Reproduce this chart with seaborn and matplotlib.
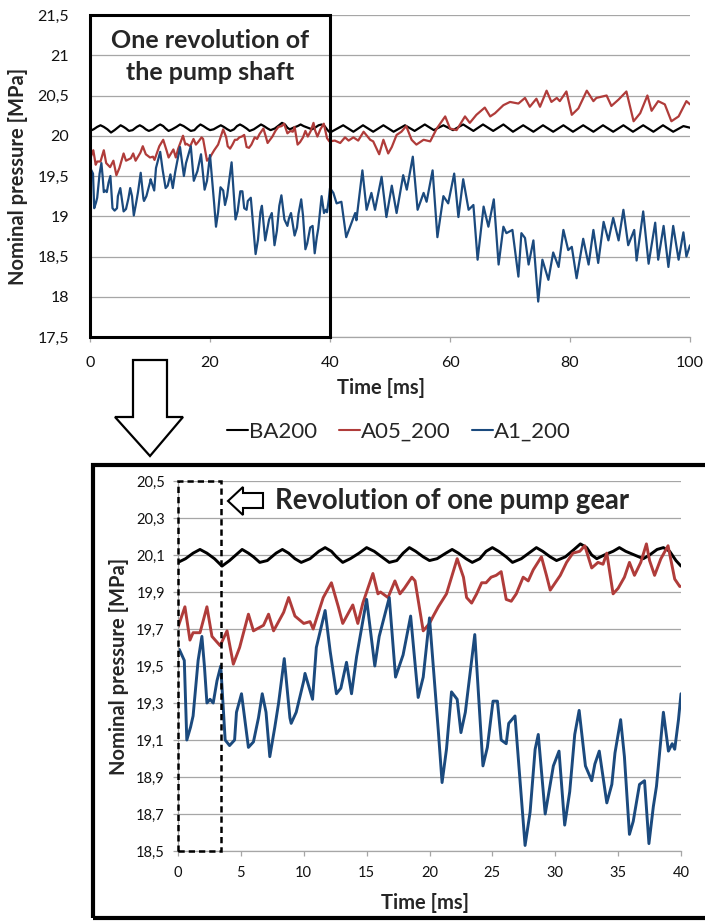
import numpy as np
import pandas as pd
import matplotlib
matplotlib.use("Agg")
import matplotlib.pyplot as plt
import seaborn as sns
from matplotlib.patches import Rectangle, Polygon
from matplotlib.ticker import FuncFormatter

# ---------------- data ----------------
series_names = ["BA200", "A05_200", "A1_200"]
series_colors = ["#000000", "#b03c3a", "#1b4a7e"]

ba_t = [0, 0.6, 1.2, 1.75, 2.3, 2.9, 3.5, 4.1, 4.6, 5.1,
        5.6, 6.0, 6.5, 7.1, 7.8, 8.3, 8.8, 9.3, 9.8, 10.5,
        11.2, 11.7, 12.2, 12.6, 13.1, 13.7, 14.4, 15.0, 15.6, 16.2,
        16.8, 17.4, 17.9, 18.4, 18.9, 19.5, 20.0, 20.6, 21.3, 21.8,
        22.3, 22.9, 23.4, 24.0, 24.5, 25.0, 25.5, 26.1, 26.6, 27.3,
        27.9, 28.5, 29.0, 29.6, 30.1, 30.8, 31.5, 32.0, 32.5, 32.9,
        33.3, 33.9, 34.6, 35.1, 35.6, 36.3, 37.0, 37.5, 38.1, 38.6,
        39.1, 39.6, 40.0,
        42.2, 43.9, 45.5, 47.2, 48.9, 50.6, 52.5, 54.1, 55.8, 57.3,
        58.9, 60.5, 62.2, 63.9, 65.5, 67.2, 68.9, 70.5, 72.2, 73.9,
        75.5, 77.2, 78.9, 80.5, 82.2, 83.9, 85.5, 87.2, 88.9, 90.5,
        92.2, 93.9, 95.5, 97.2, 98.9, 100.0]
ba_v = [20.06, 20.08, 20.11, 20.13, 20.11, 20.08, 20.04, 20.07, 20.10, 20.13,
        20.11, 20.09, 20.06, 20.07, 20.11, 20.13, 20.11, 20.08, 20.06, 20.08,
        20.12, 20.14, 20.12, 20.09, 20.06, 20.08, 20.11, 20.14, 20.12, 20.09,
        20.06, 20.07, 20.11, 20.14, 20.12, 20.09, 20.07, 20.08, 20.11, 20.13,
        20.11, 20.08, 20.06, 20.08, 20.12, 20.14, 20.12, 20.09, 20.06, 20.08,
        20.11, 20.14, 20.12, 20.09, 20.07, 20.09, 20.13, 20.16, 20.14, 20.10,
        20.08, 20.10, 20.12, 20.14, 20.12, 20.10, 20.08, 20.10, 20.13, 20.14,
        20.12, 20.07, 20.04,
        20.13, 20.05, 20.13, 20.05, 20.13, 20.05, 20.13, 20.06, 20.14, 20.07,
        20.13, 20.07, 20.14, 20.06, 20.14, 20.06, 20.14, 20.05, 20.13, 20.05,
        20.13, 20.05, 20.13, 20.05, 20.13, 20.05, 20.13, 20.05, 20.13, 20.05,
        20.13, 20.05, 20.13, 20.05, 20.12, 20.10]

a05_t = [0.0, 0.55, 0.95, 1.2, 1.75, 2.3, 2.7, 3.35, 3.9, 4.4,
         4.9, 5.6, 6.0, 6.8, 7.2, 7.6, 8.4, 8.8, 9.3, 10.0,
         10.5, 10.75, 11.55, 12.2, 12.75, 13.1, 13.9, 14.3, 14.7, 15.5,
         15.9, 16.1, 16.7, 17.25, 17.65, 18.0, 18.6, 18.85, 19.5, 20.0,
         20.3, 20.7, 21.35, 21.75, 22.2, 22.7, 22.95, 23.35, 23.75, 24.15,
         24.5, 24.9, 25.3, 25.7, 26.1, 26.5, 26.9, 27.45, 27.85, 28.25,
         28.9, 29.3, 29.6, 30.0, 30.4, 30.9, 31.4, 31.95, 32.35, 32.9,
         33.4, 33.8, 34.1, 34.6, 35.0, 35.5, 35.9, 36.3, 36.8, 37.25,
         37.5, 37.9, 38.4, 38.97, 39.5, 39.9,
         40.8, 41.7, 42.5, 43.1, 43.9, 44.7, 45.6, 46.7, 47.2,
         48.2, 48.9, 49.7, 50.3, 51.1, 51.9, 52.7, 53.6, 54.4, 55.6,
         56.7, 57.8, 59.2, 60.0, 61.1, 62.5, 63.3, 64.4, 65.8, 66.7,
         67.5, 68.9, 70.0, 71.4, 72.5, 73.3, 74.4, 75.0, 76.1, 76.9,
         77.8, 78.3, 79.4, 80.3, 81.4, 82.8, 83.9, 84.4, 86.1, 86.9,
         88.1, 89.4, 90.6, 91.7, 92.9, 93.6, 94.7, 95.8, 96.9, 98.1,
         99.4, 100.0]
a05_v = [19.71, 19.82, 19.64, 19.68, 19.68, 19.82, 19.66, 19.61, 19.69, 19.51,
         19.60, 19.78, 19.69, 19.72, 19.78, 19.69, 19.79, 19.87, 19.77, 19.73,
         19.74, 19.70, 19.87, 19.95, 19.82, 19.73, 19.83, 19.73, 19.84, 20.00,
         19.89, 19.90, 19.87, 19.96, 19.89, 19.92, 19.98, 19.96, 19.69, 19.73,
         19.77, 19.82, 19.89, 19.98, 20.08, 19.98, 19.87, 19.84, 19.89, 19.95,
         19.95, 19.98, 19.99, 20.01, 19.86, 19.85, 19.89, 19.98, 19.96, 20.02,
         20.09, 19.99, 19.91, 19.95, 19.99, 20.06, 20.11, 20.12, 20.15, 20.03,
         20.06, 20.05, 20.11, 19.89, 19.92, 19.98, 20.06, 19.99, 20.06, 20.16,
         20.07, 19.99, 20.08, 20.15, 19.97, 19.93,
         19.94, 19.91, 19.98, 19.94, 19.98, 19.94, 20.05, 19.95, 19.93,
         19.77, 19.95, 19.78, 19.86, 20.01, 20.05, 20.12, 19.95, 19.89, 19.95,
         19.93, 20.09, 20.24, 20.09, 20.07, 20.24, 20.16, 20.26, 20.35, 20.24,
         20.28, 20.38, 20.42, 20.40, 20.47, 20.36, 20.46, 20.36, 20.56, 20.42,
         20.47, 20.43, 20.55, 20.26, 20.34, 20.56, 20.43, 20.47, 20.50, 20.37,
         20.45, 20.55, 20.18, 20.28, 20.50, 20.31, 20.43, 20.39, 20.18, 20.24,
         20.43, 20.39]

a1_t = [0.1, 0.5, 0.7, 1.0, 1.2, 1.6, 1.9, 2.1, 2.3, 2.55,
        2.8, 3.1, 3.4, 3.75, 4.1, 4.5, 4.65, 5.05, 5.6, 6.0,
        6.4, 6.7, 7.0, 7.3, 7.7, 8.0, 8.45, 8.9, 9.0, 9.4,
        10.0, 10.1, 10.7, 11.0, 11.7, 12.1, 12.6, 12.95, 13.4, 13.8,
        14.2, 15.0, 15.65, 16.0, 16.8, 17.3, 17.9, 18.5, 19.1, 19.5,
        20.0, 20.7, 21.0, 21.35, 21.75, 22.2, 22.5, 22.85, 23.6, 24.25,
        24.6, 25.05, 25.4, 25.7, 26.1, 26.3, 26.8, 27.6, 28.0, 28.4,
        28.65, 29.2, 29.4, 29.85, 30.3, 30.75, 31.15, 31.55, 31.9, 32.4,
        32.9, 33.15, 33.5, 34.1, 34.5, 34.75, 35.2, 35.5, 35.9, 36.2,
        36.7, 37.1, 37.45, 37.8, 38.05, 38.6, 39.0, 39.3, 39.5, 39.8,
        40.0,
        40.56, 41.1, 41.9, 42.7, 43.3, 44.2, 44.4, 45.4, 46.1, 46.9,
        47.5, 48.6, 49.4, 50.3, 51.1, 52.2, 52.8, 53.8, 54.6, 55.6,
        56.1, 57.1, 57.9, 58.9, 59.7, 60.7, 61.4, 62.2, 63.1, 63.9,
        64.6, 65.6, 66.4, 67.3, 68.1, 68.9, 69.4, 70.4, 71.4, 71.9,
        72.5, 73.1, 73.9, 74.7, 75.4, 76.4, 77.2, 78.1, 78.9, 79.7,
        80.3, 81.1, 82.2, 83.1, 83.9, 84.7, 85.6, 86.4, 87.2, 88.1,
        88.9, 89.7, 90.7, 91.1, 92.2, 93.1, 94.2, 94.7, 95.6, 96.4,
        97.2, 98.1, 98.9, 99.4, 100.0]
a1_v = [19.59, 19.53, 19.10, 19.17, 19.23, 19.53, 19.66, 19.50, 19.30, 19.32,
        19.30, 19.42, 19.50, 19.10, 19.07, 19.10, 19.25, 19.35, 19.06, 19.09,
        19.22, 19.35, 19.25, 19.01, 19.17, 19.30, 19.54, 19.22, 19.19, 19.25,
        19.42, 19.46, 19.32, 19.60, 19.80, 19.58, 19.35, 19.38, 19.52, 19.35,
        19.55, 19.86, 19.50, 19.66, 19.87, 19.44, 19.56, 19.77, 19.33, 19.44,
        19.76, 19.15, 18.87, 19.05, 19.36, 19.32, 19.14, 19.25, 19.67, 18.96,
        19.06, 19.31, 19.31, 19.10, 19.08, 19.19, 19.23, 18.53, 18.71, 19.05,
        19.13, 18.70, 18.78, 18.96, 19.04, 18.64, 18.82, 19.13, 19.26, 18.96,
        18.88, 18.97, 19.04, 18.76, 18.86, 19.03, 19.21, 19.01, 18.59, 18.66,
        18.86, 18.88, 18.54, 18.74, 18.85, 19.25, 19.04, 19.08, 19.05, 19.21,
        19.35,
        19.29, 19.16, 19.18, 18.74, 18.86, 19.04, 18.95, 19.57, 19.08, 19.29,
        19.08, 19.49, 18.99, 19.38, 19.04, 19.51, 19.33, 19.74, 19.08, 19.29,
        19.18, 19.57, 18.74, 19.25, 19.16, 19.53, 18.99, 19.46, 19.08, 19.14,
        18.46, 19.12, 18.87, 19.21, 18.40, 18.87, 18.79, 18.83, 18.25, 18.79,
        18.73, 18.40, 18.70, 17.94, 18.46, 18.21, 18.55, 18.37, 18.83, 18.58,
        18.62, 18.23, 18.72, 18.40, 18.83, 18.42, 18.93, 18.70, 18.98, 18.70,
        19.08, 18.64, 18.83, 18.45, 19.06, 18.41, 18.92, 18.46, 18.88, 18.37,
        18.88, 18.46, 18.80, 18.50, 18.64]

top_xticks = [0, 20, 40, 60, 80, 100]
top_yticks = [17.5, 18, 18.5, 19, 19.5, 20, 20.5, 21, 21.5]
bot_xticks = [0, 5, 10, 15, 20, 25, 30, 35, 40]
bot_yticks = [18.5, 18.7, 18.9, 19.1, 19.3, 19.5, 19.7, 19.9, 20.1, 20.3, 20.5]

df = pd.concat([
    pd.DataFrame({"t": ba_t, "p": ba_v, "series": "BA200"}),
    pd.DataFrame({"t": a05_t, "p": a05_v, "series": "A05_200"}),
    pd.DataFrame({"t": a1_t, "p": a1_v, "series": "A1_200"}),
], ignore_index=True)

# ---------------- figure ----------------
sns.set_theme(style="white")
plt.rcParams["font.family"] = ["Lato", "DejaVu Sans"]

W, H = 705, 921
fig = plt.figure(figsize=(W / 100, H / 100), dpi=100)


def fx(px):
    return px / W


def fy(py):
    return 1 - py / H


ax1 = fig.add_axes([fx(90), fy(337), 600 / W, 322 / H])
ax2 = fig.add_axes([fx(178), fy(851), 503 / W, 370 / H])

palette = dict(zip(series_names, series_colors))
sns.lineplot(data=df, x="t", y="p", hue="series", hue_order=series_names,
             palette=palette, estimator=None, sort=False, lw=1.6,
             ax=ax1, legend=False)
sns.lineplot(data=df, x="t", y="p", hue="series", hue_order=series_names,
             palette=palette, estimator=None, sort=False, lw=2.1,
             ax=ax2, legend=False)
for ax in (ax1, ax2):
    for ln in ax.get_lines():
        ln.set_solid_joinstyle("round")
        ln.set_solid_capstyle("round")

grid_c = "#a6a6a6"
for ax in (ax1, ax2):
    ax.set_facecolor("none")
    ax.grid(axis="y", color=grid_c, lw=0.9)
    ax.grid(axis="x", visible=False)
    ax.set_axisbelow(True)
    for s in ["top", "right"]:
        ax.spines[s].set_visible(False)
    for s in ["left", "bottom"]:
        ax.spines[s].set_color(grid_c)
        ax.spines[s].set_linewidth(0.9)
    ax.tick_params(axis="both", which="major", direction="out", length=3.5,
                   width=0.9, color=grid_c, labelcolor="#111111",
                   bottom=True, left=True)

# top axes
ax1.set_xlim(0, 100)
ax1.set_ylim(17.5, 21.5)
ax1.set_xticks(top_xticks)
ax1.set_yticks(top_yticks)
ax1.yaxis.set_major_formatter(FuncFormatter(lambda v, _: f"{v:g}".replace(".", ",")))
ax1.tick_params(axis="both", labelsize=11.5)
ax1.tick_params(axis="y", left=False, pad=11.5)
ax1.tick_params(axis="x", pad=10)
ax1.spines["left"].set_visible(False)
ax1.set_xlabel("Time [ms]", fontsize=14.5, fontweight="bold")
ax1.set_ylabel("Nominal pressure [MPa]", fontsize=14.5, fontweight="bold")
ax1.xaxis.set_label_coords((381 - 90) / 600, (337 - 388) / 322)
ax1.xaxis.label.set_va("center")
ax1.yaxis.set_label_coords((18.5 - 90) / 600, 0.5)
ax1.yaxis.label.set_va("center")

# bottom axes
ax2.set_xlim(0, 40)
ax2.set_ylim(18.5, 20.5)
ax2.set_xticks(bot_xticks)
ax2.set_yticks(bot_yticks)
ax2.yaxis.set_major_formatter(FuncFormatter(lambda v, _: f"{v:.1f}".replace(".", ",")))
ax2.tick_params(axis="both", labelsize=10.5)
ax2.tick_params(axis="y", pad=6)
ax2.tick_params(axis="x", pad=7.5)
ax2.set_xlabel("Time [ms]", fontsize=14.5, fontweight="bold")
ax2.set_ylabel("Nominal pressure [MPa]", fontsize=14.5, fontweight="bold")
ax2.xaxis.set_label_coords((425 - 178) / 503, (851 - 903) / 370)
ax2.xaxis.label.set_va("center")
ax2.yaxis.set_label_coords((119 - 178) / 503, 0.5)
ax2.yaxis.label.set_va("center")

# legend
handles = ax1.get_lines()[:3]
leg = fig.legend(handles, series_names, loc="center",
                 bbox_to_anchor=(fx(399), fy(432)), ncol=3, frameon=False,
                 fontsize=16, handlelength=0.95, handletextpad=0.05,
                 columnspacing=0.95)
for lh in leg.get_lines():
    lh.set_linewidth(1.5)

# annotations: top box and text
ax1.add_patch(Rectangle((0, 17.5), 40, 4, fill=False, lw=2.2, ec="black",
                        clip_on=False, zorder=6))
ax1.text(20, 21.09, "One revolution of", ha="center", va="baseline",
         fontsize=18, fontweight="bold", zorder=7)
ax1.text(20, 20.69, "the pump shaft", ha="center", va="baseline",
         fontsize=18, fontweight="bold", zorder=7)

# dashed box for one gear revolution
ax2.add_patch(Rectangle((0, 18.5), 3.4, 2.0, fill=False, lw=1.8, ec="black",
                        ls=(0, (2.5, 1.6)), clip_on=False, zorder=6))

# down arrow
down_pts = [(133, 360), (167, 360), (167, 417), (183, 417), (150, 456),
            (115, 417), (133, 417)]
fig.add_artist(Polygon([(fx(x), fy(y)) for x, y in down_pts], closed=True,
                       fc="white", ec="black", lw=1.6,
                       transform=fig.transFigure))

# left arrow
left_pts = [(228, 501), (243, 487), (243, 493), (263, 493), (263, 508),
            (243, 508), (243, 515)]
fig.add_artist(Polygon([(fx(x), fy(y)) for x, y in left_pts], closed=True,
                       fc="white", ec="black", lw=1.5,
                       transform=fig.transFigure))
fig.text(fx(275), fy(509), "Revolution of one pump gear", ha="left",
         va="baseline", fontsize=19.8, fontweight="bold")

# big frame around the bottom chart
fig.add_artist(Rectangle((fx(93), fy(918)), (730 - 93) / W, (918 - 465) / H,
                         fill=False, lw=3, ec="black",
                         transform=fig.transFigure))

fig.savefig("out.png", dpi=100)
